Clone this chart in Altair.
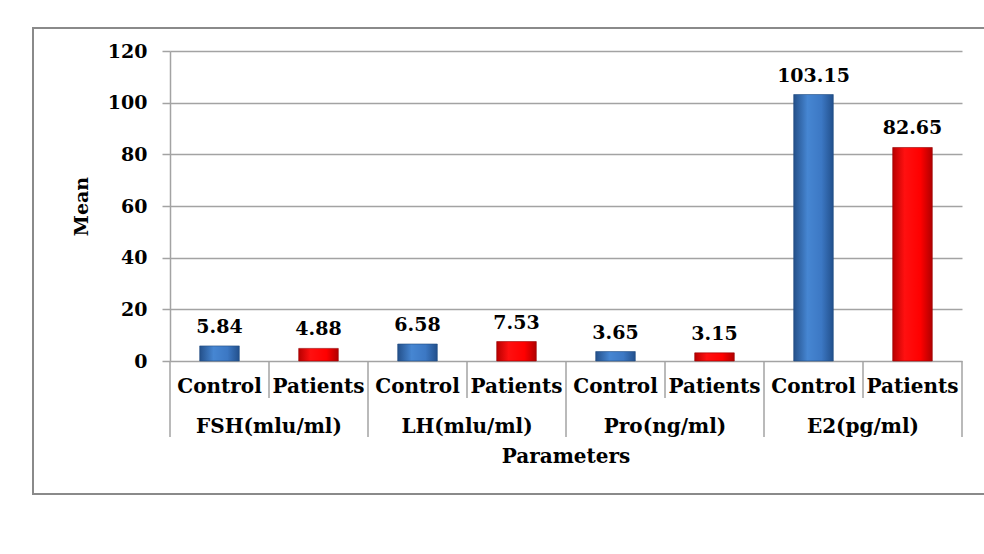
import altair as alt
import pandas as pd

groups = ["FSH(mlu/ml)", "LH(mlu/ml)", "Pro(ng/ml)", "E2(pg/ml)"]
subgroups = ["Control", "Patients"]
control = [5.84, 6.58, 3.65, 103.15]
patients = [4.88, 7.53, 3.15, 82.65]
y_ticks = [0, 20, 40, 60, 80, 100, 120]
x_title = "Parameters"
y_title = "Mean"

rows = []
for g, name in enumerate(groups):
    for s, (sub, vals) in enumerate(zip(subgroups, [control, patients])):
        slot = 2 * g + s
        rows.append({
            "group": name, "sub": sub, "value": vals[g],
            "label": f"{vals[g]:.2f}",
            "left": slot + 0.3, "right": slot + 0.7, "mid": slot + 0.5,
        })
df = pd.DataFrame(rows)

grp_df = pd.DataFrame({"group": groups, "mid": [2 * g + 1 for g in range(len(groups))]})
sep_df = pd.DataFrame({"pos": list(range(0, 2 * len(groups) + 1))})
sep_df["major"] = sep_df["pos"] % 2 == 0
title_df = pd.DataFrame({"t": [x_title], "mid": [len(groups)]})

FONT = "DejaVu Serif"
TXT = "#000000"
xs = alt.Scale(domain=[0, 8], nice=False, zero=False, padding=0)
ys = alt.Scale(domain=[0, 120], nice=False, padding=0)

frame = alt.Chart(pd.DataFrame({"a": [0]})).mark_rect(
    fill="transparent", stroke="#8a8a8a", strokeWidth=2
).encode(x=alt.value(-137), x2=alt.value(830), y=alt.value(-23), y2=alt.value(443))

base = alt.Chart(df)

axis_layer = base.mark_bar(opacity=0).encode(
    x=alt.X("left:Q", scale=xs, axis=None),
    x2="right:Q",
    y=alt.Y("value:Q", scale=ys,
            axis=alt.Axis(values=y_ticks, title=y_title, grid=True,
                          gridColor="#a3a3a3", gridWidth=1.5,
                          domainColor="#a3a3a3", domainWidth=1.5,
                          tickColor="#a3a3a3", tickWidth=1.5, tickSize=8,
                          labelFont=FONT, labelFontSize=19, labelFontWeight="bold",
                          labelColor=TXT, labelPadding=15,
                          titleFont=FONT, titleFontSize=19, titleFontWeight="bold",
                          titleColor=TXT, titlePadding=16)),
    y2=alt.datum(0),
)

blue = alt.Gradient(gradient="linear", x1=0, x2=1, y1=0, y2=0, stops=[
    alt.GradientStop(color="#24508a", offset=0),
    alt.GradientStop(color="#4686d2", offset=0.35),
    alt.GradientStop(color="#3c78c4", offset=0.7),
    alt.GradientStop(color="#22508c", offset=1),
])
red = alt.Gradient(gradient="linear", x1=0, x2=1, y1=0, y2=0, stops=[
    alt.GradientStop(color="#b80000", offset=0),
    alt.GradientStop(color="#ff1010", offset=0.3),
    alt.GradientStop(color="#ff0000", offset=0.7),
    alt.GradientStop(color="#b00000", offset=1),
])

bars_c = base.transform_filter(alt.datum.sub == "Control").mark_bar(
    color=blue, stroke="#1f4a80", strokeWidth=0.6
).encode(x=alt.X("left:Q", scale=xs), x2="right:Q",
         y=alt.Y("value:Q", scale=ys), y2=alt.datum(0))

bars_p = base.transform_filter(alt.datum.sub == "Patients").mark_bar(
    color=red, stroke="#990000", strokeWidth=0.6
).encode(x=alt.X("left:Q", scale=xs), x2="right:Q",
         y=alt.Y("value:Q", scale=ys), y2=alt.datum(0))

values = base.mark_text(
    font=FONT, fontSize=19, fontWeight="bold", color=TXT, baseline="alphabetic", dy=-13
).encode(x=alt.X("mid:Q", scale=xs), y=alt.Y("value:Q", scale=ys), text="label:N")

cats = base.mark_text(
    font=FONT, fontSize=20, fontWeight="bold", color=TXT, baseline="middle"
).encode(x=alt.X("mid:Q", scale=xs), y=alt.value(336), text="sub:N")

grps = alt.Chart(grp_df).mark_text(
    font=FONT, fontSize=20, fontWeight="bold", color=TXT, baseline="middle"
).encode(x=alt.X("mid:Q", scale=xs), y=alt.value(376), text="group:N")

seps_minor = alt.Chart(sep_df).transform_filter(~alt.datum.major).mark_rule(
    color="#a3a3a3", strokeWidth=1.5
).encode(x=alt.X("pos:Q", scale=xs), y=alt.value(310), y2=alt.value(347))

seps_major = alt.Chart(sep_df).transform_filter(alt.datum.major).mark_rule(
    color="#a3a3a3", strokeWidth=1.5
).encode(x=alt.X("pos:Q", scale=xs), y=alt.value(310), y2=alt.value(386))

xtitle = alt.Chart(title_df).mark_text(
    font=FONT, fontSize=20, fontWeight="bold", color=TXT, baseline="middle"
).encode(x=alt.X("mid:Q", scale=xs), y=alt.value(406), text="t:N")

chart = alt.layer(
    frame, axis_layer, seps_minor, seps_major, bars_c, bars_p, values, cats, grps, xtitle
).properties(
    width=792, height=310,
    padding={"left": 170, "top": 51, "right": 22, "bottom": 193},
    autosize=alt.AutoSizeParams(type="none"),
    background="white",
).configure_view(stroke=None)

chart.save("out.html", embed_options={"renderer": "svg", "actions": False})
